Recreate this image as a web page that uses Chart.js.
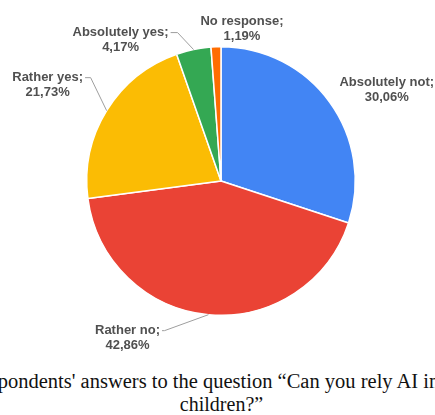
<!DOCTYPE html>
<html>
<head>
<meta charset="utf-8">
<script src="https://cdn.jsdelivr.net/npm/chart.js@4/dist/chart.umd.min.js"></script>
<style>
  html, body { margin: 0; padding: 0; background: #fff; width: 435px; height: 415px; overflow: hidden; }
  #wrap { position: absolute; left: 0; top: 0; width: 435px; height: 360px; }
  .caption { position: absolute; left: 0; width: 435px; font-family: "Liberation Serif", "Times New Roman", serif;
             font-size: 20px; color: #111; white-space: nowrap; line-height: 22px; }
  #cap1 { top: 370px; left: -33px; width: auto; font-size: 20.5px; }
  #cap2 { top: 393px; text-align: center; left: 4px; }
</style>
</head>
<body>
<div id="wrap"><canvas id="cPie"></canvas></div>
<div class="caption" id="cap1">Respondents' answers to the question “Can you rely AI in</div>
<div class="caption" id="cap2">children?”</div>
<script>
// ===== Pie: can you rely on AI =====
const categories = ['Absolutely not', 'Rather no', 'Rather yes', 'Absolutely yes', 'No response'];
const shares = [30.06, 42.86, 21.73, 4.17, 1.19];
const valueLabels = ['30,06%', '42,86%', '21,73%', '4,17%', '1,19%'];
const sliceColors = ['#4285F4', '#EA4335', '#FBBC04', '#34A853', '#FF6D01'];

// label placement relative to the slice's outer mid point
// tx/ty = text block centre, ex/ey = leader elbow (null = no leader)
const labelPlace = [
    { tx: 57, ty: -20, ex: null },
    { tx: -81, ty: 16, ex: -44, ey: 16 },
    { tx: -59, ty: -33, ex: -16, ey: -33 },
    { tx: -73, ty: -17, ex: -16, ey: -17 },
    { tx: 26, ty: -25, ex: null }
];

const outLabels = {
    id: 'outLabels',
    afterDatasetsDraw(chart) {
        const ctx = chart.ctx;
        const meta = chart.getDatasetMeta(0);
        ctx.save();
        ctx.font = 'bold 13px "Liberation Sans", Arial, sans-serif';
        ctx.textAlign = 'center';
        ctx.textBaseline = 'middle';
        meta.data.forEach((arc, i) => {
            const mid = (arc.startAngle + arc.endAngle) / 2;
            const ax = arc.x + Math.cos(mid) * arc.outerRadius;
            const ay = arc.y + Math.sin(mid) * arc.outerRadius;
            const p = labelPlace[i];
            const l1 = categories[i] + ';';
            const l2 = valueLabels[i];
            const cx = ax + p.tx, cy = ay + p.ty;
            if (p.ex !== null) {
                const w = ctx.measureText(l1).width;
                const ex = ax + p.ex, ey = ay + p.ey;
                const endX = cx + w / 2 + 2;
                ctx.strokeStyle = '#9e9e9e';
                ctx.lineWidth = 1;
                ctx.beginPath();
                ctx.moveTo(ax, ay);
                ctx.lineTo(ex, ey);
                ctx.lineTo(endX, ey);
                ctx.stroke();
            }
            ctx.fillStyle = '#505050';
            ctx.fillText(l1, cx, cy);
            ctx.fillText(l2, cx, cy + 15);
        });
        ctx.restore();
    }
};

new Chart(document.getElementById('cPie').getContext('2d'), {
    type: 'pie',
    data: {
        labels: categories,
        datasets: [{ data: shares, backgroundColor: sliceColors, borderColor: '#ffffff', borderWidth: 1.5 }]
    },
    options: {
        responsive: true, maintainAspectRatio: false, animation: false,
        layout: { padding: { top: 46, bottom: 44, left: 7, right: 0 } },
        plugins: { legend: { display: false }, tooltip: { enabled: false } }
    },
    plugins: [outLabels]
});
</script>
</body>
</html>
